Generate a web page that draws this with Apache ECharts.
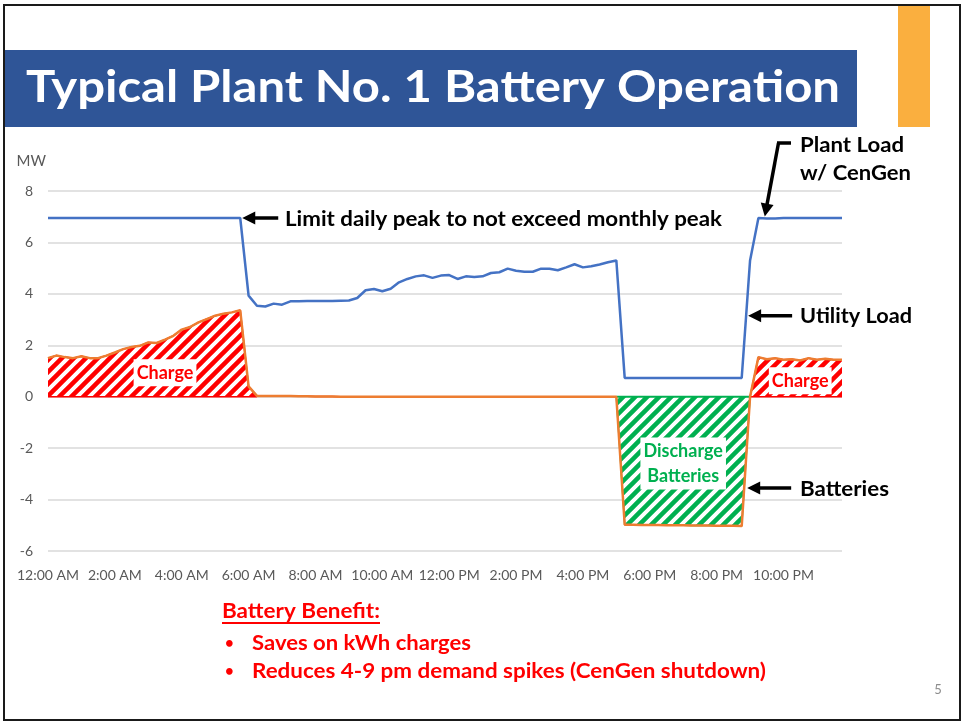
<!DOCTYPE html>
<html>
<head>
    <meta charset="utf-8">
    <title>Typical Plant No. 1 Battery Operation</title>
    <script src="https://cdn.jsdelivr.net/npm/echarts@6/dist/echarts.min.js"></script>
    <style>
        body { margin: 0; background: #fff; }
    </style>
</head>
<body>
    <div id="main" style="width:964px;height:723px;"></div>

    <script type="text/javascript">

        // tick labels every 2 hours, data every 15 minutes (96 slots)
        var tickLabels = ['12:00 AM', '2:00 AM', '4:00 AM', '6:00 AM', '8:00 AM', '10:00 AM',
            '12:00 PM', '2:00 PM', '4:00 PM', '6:00 PM', '8:00 PM', '10:00 PM'];

        // MW drawn from the utility
        var utilityLoad = [
            6.95, 6.95, 6.95, 6.95, 6.95, 6.95, 6.95, 6.95, 6.95, 6.95, 6.95, 6.95,
            6.95, 6.95, 6.95, 6.95, 6.95, 6.95, 6.95, 6.95, 6.95, 6.95, 6.95, 6.95,
            3.93, 3.54, 3.51, 3.62, 3.58, 3.71, 3.71, 3.72, 3.72, 3.72, 3.72, 3.73,
            3.74, 3.84, 4.14, 4.19, 4.10, 4.20, 4.45, 4.58, 4.68, 4.72, 4.62, 4.71,
            4.73, 4.58, 4.68, 4.66, 4.68, 4.81, 4.84, 4.98, 4.90, 4.86, 4.86, 4.98,
            4.98, 4.92, 5.03, 5.15, 5.03, 5.07, 5.14, 5.23, 5.30, 0.73, 0.73, 0.73,
            0.73, 0.73, 0.73, 0.73, 0.73, 0.73, 0.73, 0.73, 0.73, 0.73, 0.73, 0.73,
            5.30, 6.95, 6.93, 6.93, 6.95, 6.95, 6.95, 6.95, 6.95, 6.95, 6.95, 6.95
        ];

        // MW into (+) / out of (-) the batteries
        var batteries = [
            1.50, 1.60, 1.54, 1.50, 1.57, 1.50, 1.50, 1.60, 1.72, 1.85, 1.93, 1.98,
            2.11, 2.09, 2.22, 2.37, 2.61, 2.71, 2.89, 3.02, 3.15, 3.23, 3.28, 3.36,
            0.40, 0.03, 0.03, 0.03, 0.03, 0.03, 0.02, 0.02, 0.01, 0.01, 0.01, 0.00,
            0.00, 0.00, 0.00, 0.00, 0.00, 0.00, 0.00, 0.00, 0.00, 0.00, 0.00, 0.00,
            0.00, 0.00, 0.00, 0.00, 0.00, 0.00, 0.00, 0.00, 0.00, 0.00, 0.00, 0.00,
            0.00, 0.00, 0.00, 0.00, 0.00, 0.00, 0.00, 0.00, 0.00, -4.98, -4.98, -4.99,
            -4.99, -4.99, -5.00, -5.00, -5.00, -5.01, -5.01, -5.01, -5.02, -5.02, -5.02, -5.03,
            0.00, 1.54, 1.46, 1.50, 1.44, 1.46, 1.41, 1.50, 1.44, 1.48, 1.44, 1.44
        ];

        var categories = [];
        for (var s = 0; s < utilityLoad.length; s++) {
            var h = Math.floor(s / 4), m = (s % 4) * 15;
            var hh = h % 12 == 0 ? 12 : h % 12;
            categories.push(hh + ':' + (m < 10 ? '0' + m : m) + (h < 12 ? ' AM' : ' PM'));
        }

        function near(arr, i, test) {
            return test(arr[i]) || (i > 0 && test(arr[i - 1])) || (i < arr.length - 1 && test(arr[i + 1]));
        }
        var isPos = function (v) { return v > 0.005; };
        var isNeg = function (v) { return v < -0.005; };

        var chargeFill = batteries.map(function (v, i) { return isPos(v) ? v : (near(batteries, i, isPos) ? 0 : null); });
        var dischargeFill = batteries.map(function (v, i) { return isNeg(v) ? v : (near(batteries, i, isNeg) ? 0 : null); });
        var chargeEdge = batteries.map(function (v, i) { return near(batteries, i, function (x) { return x > 0.05; }) ? 0 : null; });
        var dischargeEdge = batteries.map(function (v, i) { return near(batteries, i, isNeg) ? 0 : null; });

        function hatch(color) {
            var c = document.createElement('canvas');
            c.width = 12; c.height = 12;
            var g = c.getContext('2d');
            g.fillStyle = '#fff';
            g.fillRect(0, 0, 12, 12);
            g.strokeStyle = color;
            g.lineWidth = 4.5;
            g.beginPath();
            g.moveTo(-3, 15); g.lineTo(15, -3);
            g.moveTo(-9, 9); g.lineTo(9, -9);
            g.moveTo(3, 21); g.lineTo(21, 3);
            g.stroke();
            return c;
        }

        var FONT = 'Lato, "Open Sans", sans-serif';
        var RED = '#FF0000', GREEN = '#00B050', BLUE = '#4472C4', ORANGE = '#ED7D31';

        var chart = echarts.init(document.getElementById('main'));

        var option = {
            animation: false,
            backgroundColor: '#fff',
            textStyle: { fontFamily: FONT },
            grid: { left: 48, right: 122, top: 191, bottom: 172 },
            xAxis: {
                type: 'category',
                data: categories,
                boundaryGap: false,
                axisLine: { show: false },
                axisTick: { show: false },
                splitLine: { show: false },
                axisLabel: {
                    interval: 7, color: '#595959', fontSize: 14, margin: 17,
                    formatter: function (v, i) { return tickLabels[i / 8]; }
                }
            },
            yAxis: {
                type: 'value',
                min: -6, max: 8, interval: 2,
                name: 'MW',
                nameGap: 22,
                nameTextStyle: { color: '#595959', fontSize: 15, align: 'right', padding: [0, 2, 0, 0] },
                axisLine: { show: false },
                axisTick: { show: false },
                axisLabel: { color: '#595959', fontSize: 14, margin: 15 },
                splitLine: { lineStyle: { color: '#D9D9D9', width: 1.5 } }
            },
            series: [
                {
                    name: 'Charge', type: 'line', data: chargeFill, symbol: 'none', z: 1,
                    lineStyle: { color: RED, width: 1.5 },
                    areaStyle: { color: { image: hatch(RED), repeat: 'repeat' }, opacity: 1 }
                },
                {
                    name: 'Discharge', type: 'line', data: dischargeFill, symbol: 'none', z: 1,
                    lineStyle: { color: GREEN, width: 1.5 },
                    areaStyle: { color: { image: hatch(GREEN), repeat: 'repeat' }, opacity: 1 }
                },
                { type: 'line', data: chargeEdge, symbol: 'none', z: 2, lineStyle: { color: RED, width: 1.5 } },
                { type: 'line', data: dischargeEdge, symbol: 'none', z: 2, lineStyle: { color: GREEN, width: 2 } },
                {
                    name: 'Batteries', type: 'line', data: batteries, symbol: 'none', z: 3,
                    lineStyle: { color: ORANGE, width: 2.5 }
                },
                {
                    name: 'Utility Load', type: 'line', data: utilityLoad, symbol: 'none', z: 4,
                    lineStyle: { color: BLUE, width: 2.5 }
                }
            ]
        };
        chart.setOption(option);

        // ---- slide decoration + annotations ----
        function px(i, v) {
            return chart.convertToPixel({ xAxisIndex: 0, yAxisIndex: 0 }, [i, v]);
        }
        // point on a series between slot i and i+1 where it reaches value v
        function crossing(arr, i, v) {
            var a = px(i, v), b = px(i + 1, v);
            var f = (v - arr[i]) / (arr[i + 1] - arr[i]);
            return [a[0] + f * (b[0] - a[0]), a[1]];
        }
        function arrow(tail, tip) {
            var dx = tip[0] - tail[0], dy = tip[1] - tail[1];
            var len = Math.sqrt(dx * dx + dy * dy);
            var ux = dx / len, uy = dy / len, hl = 13, hw = 6.5;
            var bx = tip[0] - ux * hl, by = tip[1] - uy * hl;
            return [
                { type: 'line', z: 100, shape: { x1: tail[0], y1: tail[1], x2: bx + ux, y2: by + uy }, style: { stroke: '#000', lineWidth: 3.5 } },
                { type: 'polygon', z: 100, shape: { points: [tip, [bx - uy * hw, by + ux * hw], [bx + uy * hw, by - ux * hw]] }, style: { fill: '#000' } }
            ];
        }

        // Calibri is not installed: stretch the substitute font to the slide's text widths
        var mc = document.createElement('canvas').getContext('2d');
        function label(text, x, y, font, color, width, align) {
            var sx = 1;
            if (width) {
                mc.font = font;
                sx = width / mc.measureText(text).width;
            }
            return {
                type: 'text', x: x, y: y, z: 100, scaleX: sx,
                style: { text: text, font: font, fill: color, align: align || 'left', verticalAlign: 'middle' }
            };
        }
        function boxLabel(text, p, color) {
            return {
                type: 'text', x: p[0], y: p[1], z: 50,
                style: {
                    text: text, font: 'bold 18px ' + FONT, fill: color, align: 'center', verticalAlign: 'middle',
                    backgroundColor: '#fff', padding: [1, 3], lineHeight: 25
                }
            };
        }

        var ANN = 'bold 21px ' + FONT;
        var g = [];

        // frame, title banner, accent bar
        g.push({ type: 'rect', z: 0, shape: { x: 4, y: 5, width: 956, height: 715 }, style: { fill: 'none', stroke: '#1a1a1a', lineWidth: 2 } });
        g.push({ type: 'rect', z: 0, shape: { x: 5, y: 50, width: 852, height: 77 }, style: { fill: '#2F5597' } });
        g.push({ type: 'rect', z: 0, shape: { x: 898, y: 6, width: 32, height: 121 }, style: { fill: '#FAAF3F' } });
        g.push(label('Typical Plant No. 1 Battery Operation', 26, 88, 'bold 43px ' + FONT, '#fff', 814));

        // limit daily peak
        var pPeak = px(23, utilityLoad[23]);
        var tipPeak = [pPeak[0] + 2, pPeak[1]];
        g = g.concat(arrow([tipPeak[0] + 36, tipPeak[1]], tipPeak));
        g.push(label('Limit daily peak to not exceed monthly peak', 285, tipPeak[1] + 1, ANN, '#000', 437));

        // plant load w/ CenGen
        var pPlant = px(86, utilityLoad[86]);
        var tipPlant = [pPlant[0] - 2, pPlant[1] - 2];
        g.push({ type: 'line', z: 100, shape: { x1: 791, y1: 143, x2: 777, y2: 143 }, style: { stroke: '#000', lineWidth: 3.5 } });
        g = g.concat(arrow([778.5, 143], tipPlant));
        g.push(label('Plant Load', 800, 145, ANN, '#000', 104));
        g.push(label('w/ CenGen', 800, 173, ANN, '#000', 111));

        // utility load
        var pUtil = crossing(utilityLoad, 83, 3.15);
        var tipUtil = [pUtil[0] + 2, pUtil[1]];
        g = g.concat(arrow([tipUtil[0] + 44, tipUtil[1]], tipUtil));
        g.push(label('Utility Load', 800, tipUtil[1] + 1, ANN, '#000', 112));

        // batteries
        var pBat = crossing(batteries, 83, -3.55);
        var tipBat = [pBat[0] + 3, pBat[1]];
        g = g.concat(arrow([tipBat[0] + 44, tipBat[1]], tipBat));
        g.push(label('Batteries', 800, tipBat[1] + 1, ANN, '#000', 89));

        // in-area labels
        g.push(boxLabel('Charge', px(14.1, 0.93), RED));
        g.push(boxLabel('Charge', px(89.8, 0.62), RED));
        g.push(boxLabel('Discharge\nBatteries', px(76.3, -2.6), GREEN));

        // battery benefit notes
        var NOTE = 'bold 21px ' + FONT;
        g.push(label('Battery Benefit:', 222, 611, NOTE, RED, 158));
        g.push({ type: 'line', z: 100, shape: { x1: 222, y1: 623, x2: 380, y2: 623 }, style: { stroke: RED, lineWidth: 2 } });
        g.push(label('\u2022', 225, 643, 'bold 15px ' + FONT, RED));
        g.push(label('Saves on kWh charges', 252, 643, NOTE, RED, 219));
        g.push(label('\u2022', 225, 671, 'bold 15px ' + FONT, RED));
        g.push(label('Reduces 4-9 pm demand spikes (CenGen shutdown)', 252, 671, NOTE, RED, 514));

        // page number
        g.push(label('5', 938, 690, '13px ' + FONT, '#8C8C8C', 0, 'center'));

        chart.setOption({ graphic: g });

    </script>
</body>
</html>
